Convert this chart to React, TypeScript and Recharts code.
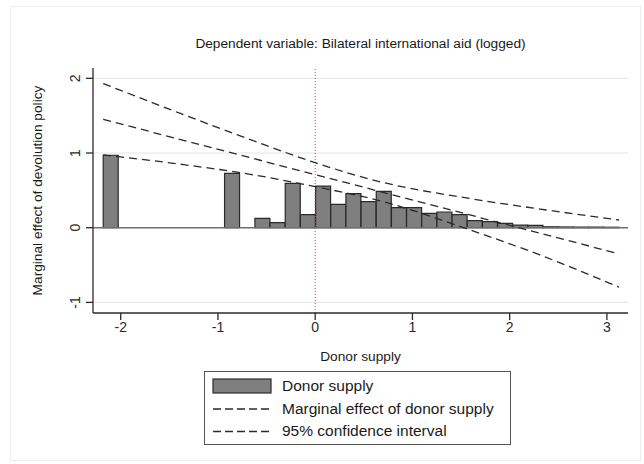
import React from "react";
import {
  Bar,
  ComposedChart,
  Line,
  ReferenceLine,
  XAxis,
  YAxis,
} from "recharts";

// histogram of donor supply (bin centres and heights)
const binCenters = [
  -2.102, -0.854, -0.542, -0.386, -0.23, -0.074, 0.082, 0.238, 0.394, 0.55,
  0.706, 0.862, 1.018, 1.174, 1.33, 1.486, 1.642, 1.798, 1.954, 2.11, 2.266,
  2.422, 2.578, 2.734, 2.89, 3.046,
];
const binHeights = [
  0.97, 0.727, 0.125, 0.067, 0.594, 0.174, 0.557, 0.313, 0.455, 0.348, 0.485,
  0.27, 0.27, 0.192, 0.21, 0.175, 0.095, 0.08, 0.058, 0.035, 0.03, 0.012,
  0.01, 0.008, 0.008, 0.006,
];

// marginal effect line
const meX = [-2.18, 3.125];
const meY = [1.45, -0.35];

// 95% confidence interval
const ciX = [-2.18, -1.387, -0.668, 0, 0.668, 1.593, 2.312, 3.125];
const ciUpper = [1.93, 1.53, 1.18, 0.87, 0.615, 0.39, 0.25, 0.103];
const ciLower = [0.975, 0.85, 0.715, 0.55, 0.36, -0.03, -0.365, -0.797];

const xTicks = [-2, -1, 0, 1, 2, 3];
const yTicks = [-1, 0, 1, 2];

const barData = binCenters.map((x, i) => ({ x, supply: binHeights[i] }));
const meData = meX.map((x, i) => ({ x, me: meY[i] }));
const upperData = ciX.map((x, i) => ({ x, ci: ciUpper[i] }));
const lowerData = ciX.map((x, i) => ({ x, ci: ciLower[i] }));

const X_DOMAIN: [number, number] = [-2.285, 3.217];
const FONT = "'Liberation Sans', Arial, Helvetica, sans-serif";
const INK = "#2a2a2a";

function YTick({ x, y, payload }: any) {
  const cx = x - 9;
  return (
    <text
      x={cx}
      y={y}
      dy="0.35em"
      textAnchor="middle"
      fontSize={14}
      fill={INK}
      fontFamily={FONT}
      transform={`rotate(-90, ${cx}, ${y})`}
    >
      {payload.value}
    </text>
  );
}

function LegendBox() {
  const row = (top: number): React.CSSProperties => ({
    position: "absolute",
    left: 77,
    top,
    fontSize: 15.5,
    lineHeight: "18px",
    color: "#1a1a1a",
    whiteSpace: "nowrap",
  });
  return (
    <div
      style={{
        position: "absolute",
        left: 204,
        top: 371,
        width: 305,
        height: 72,
        border: "1px solid #555",
        background: "#fff",
        fontFamily: FONT,
      }}
    >
      <svg
        width={305}
        height={72}
        style={{ position: "absolute", left: 0, top: 0 }}
      >
        <rect x={8} y={7} width={58} height={14} fill="#7f7f7f" stroke={INK} strokeWidth={1.2} />
        <line x1={8} x2={67} y1={37} y2={37} stroke={INK} strokeWidth={1.3} strokeDasharray="8 4" />
        <line x1={8} x2={67} y1={59.5} y2={59.5} stroke={INK} strokeWidth={1.3} strokeDasharray="8 4" />
      </svg>
      <div style={row(5)}>Donor supply</div>
      <div style={row(28)}>Marginal effect of donor supply</div>
      <div style={row(50)}>95% confidence interval</div>
    </div>
  );
}

export default function App() {
  return (
    <div
      style={{
        position: "absolute",
        left: 0,
        top: 0,
        width: 644,
        height: 464,
        background: "#fff",
        fontFamily: FONT,
      }}
    >
      <div
        style={{
          position: "absolute",
          left: 10,
          top: 6,
          width: 629,
          height: 453,
          border: "1px solid #ededed",
        }}
      />
      <div
        style={{
          position: "absolute",
          left: 93,
          width: 535,
          top: 36,
          textAlign: "center",
          fontSize: 13.7,
          color: "#1a1a1a",
        }}
      >
        Dependent variable: Bilateral international aid (logged)
      </div>
      <div style={{ position: "absolute", left: 0, top: 0 }}>
        <ComposedChart
          width={644}
          height={464}
          data={barData}
          barCategoryGap={0}
          margin={{ top: 68, right: 16, bottom: 103, left: 20 }}
        >
          <XAxis
            dataKey="x"
            type="number"
            domain={X_DOMAIN}
            allowDataOverflow
            ticks={xTicks}
            tickSize={7}
            height={48}
            axisLine={{ stroke: INK, strokeWidth: 1.3 }}
            tickLine={{ stroke: INK, strokeWidth: 1.3 }}
            tick={{ fill: INK, fontSize: 14, fontFamily: FONT }}
            label={{
              value: "Donor supply",
              position: "insideBottom",
              offset: 0,
              fill: "#1a1a1a",
              fontSize: 13.7,
              fontFamily: FONT,
            }}
          />
          <XAxis
            xAxisId="fit"
            dataKey="x"
            type="number"
            domain={X_DOMAIN}
            allowDataOverflow
            hide
          />
          <YAxis
            type="number"
            domain={[-1.142, 2.138]}
            allowDataOverflow
            ticks={yTicks}
            tickSize={7}
            width={73}
            axisLine={{ stroke: INK, strokeWidth: 1.3 }}
            tickLine={{ stroke: INK, strokeWidth: 1.3 }}
            tick={<YTick />}
            label={{
              value: "Marginal effect of devolution policy",
              angle: -90,
              position: "insideLeft",
              offset: 17,
              fill: "#1a1a1a",
              fontSize: 13.7,
              fontFamily: FONT,
              style: { textAnchor: "middle" },
            }}
          />
          <ReferenceLine y={2} stroke="#e4e4e4" strokeWidth={1} />
          <ReferenceLine y={1} stroke="#e4e4e4" strokeWidth={1} />
          <ReferenceLine y={-1} stroke="#e4e4e4" strokeWidth={1} />
          <ReferenceLine y={0} stroke="#6e6e6e" strokeWidth={1.6} />
          <Bar
            dataKey="supply"
            name="Donor supply"
            barSize={15}
            fill="#7f7f7f"
            stroke={INK}
            strokeWidth={1.2}
            isAnimationActive={false}
          />
          <ReferenceLine
            x={0}
            stroke="#d2443f"
            strokeWidth={1}
            strokeDasharray="1 2"
          />
          <Line
            xAxisId="fit"
            data={meData}
            dataKey="me"
            name="Marginal effect of donor supply"
            type="linear"
            stroke={INK}
            strokeWidth={1.3}
            strokeDasharray="8 5"
            dot={false}
            activeDot={false}
            isAnimationActive={false}
          />
          <Line
            xAxisId="fit"
            data={upperData}
            dataKey="ci"
            name="95% confidence interval"
            type="monotone"
            stroke={INK}
            strokeWidth={1.3}
            strokeDasharray="8 5"
            dot={false}
            activeDot={false}
            isAnimationActive={false}
          />
          <Line
            xAxisId="fit"
            data={lowerData}
            dataKey="ci"
            name="95% confidence interval (lower)"
            type="monotone"
            stroke={INK}
            strokeWidth={1.3}
            strokeDasharray="8 5"
            dot={false}
            activeDot={false}
            isAnimationActive={false}
          />
        </ComposedChart>
      </div>
      <LegendBox />
    </div>
  );
}
